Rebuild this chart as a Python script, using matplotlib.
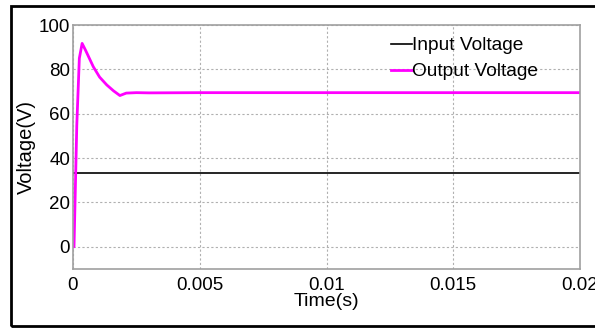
import matplotlib
matplotlib.use("Agg")
import matplotlib.pyplot as plt
from matplotlib.patches import Rectangle

plt.rcParams['font.family'] = ['Liberation Sans', 'DejaVu Sans']

t_in = [0.0, 0.02]
v_in = [33.3, 33.3]

t_out = [0.0, 0.00004, 0.00015, 0.00025, 0.00036, 0.0005, 0.0008, 0.00105, 0.00133,
         0.0016, 0.00185, 0.0021, 0.0025, 0.003, 0.005, 0.01, 0.015, 0.02]
v_out = [0.0, 0.0, 55.0, 85.0, 91.7, 88.5, 81.2, 76.5, 73.0,
         70.3, 68.2, 69.3, 69.5, 69.4, 69.5, 69.5, 69.5, 69.5]

xticks = [0, 0.005, 0.01, 0.015, 0.02]
xtick_labels = ['0', '0.005', '0.01', '0.015', '0.02']
yticks = [0, 20, 40, 60, 80, 100]

fig = plt.figure(figsize=(5.95, 3.28), dpi=100)
ax = fig.add_axes([73/595, 1-269/328, (580-73)/595, (269-25)/328])

ax.plot(t_in, v_in, color='black', lw=1.2, label='Input Voltage')
ax.plot(t_out, v_out, color='#ff00ff', lw=2.0, label='Output Voltage')

ax.set_xlim(0, 0.02)
ax.set_ylim(-10, 100)
ax.set_xticks(xticks)
ax.set_xticklabels(xtick_labels)
ax.set_yticks(yticks)
ax.tick_params(axis='y', labelsize=13.5, length=0, pad=2)
ax.tick_params(axis='x', labelsize=13.5, length=0, pad=6)
ax.grid(True, color='#b0b0b0', linestyle=(0, (2, 2)), lw=0.8)
for s in ax.spines.values():
    s.set_color('#a0a0a0')
    s.set_linewidth(1.2)

ax.set_xlabel('Time(s)', fontsize=14, labelpad=-1)
ax.set_ylabel('Voltage(V)', fontsize=14.5, labelpad=2)

leg = ax.legend(loc='upper left', bbox_to_anchor=((385-73)/507, 0.975), frameon=False, fontsize=13.8,
                handlelength=1.1, handletextpad=0.0, borderaxespad=0.1, borderpad=0.2,
                labelspacing=0.45)

fig.patches.append(Rectangle((11/595, 1-326/328), 600/595, (326-6)/328,
                             transform=fig.transFigure, fill=False, edgecolor='black', lw=2))

fig.savefig('out.png', dpi=100)
